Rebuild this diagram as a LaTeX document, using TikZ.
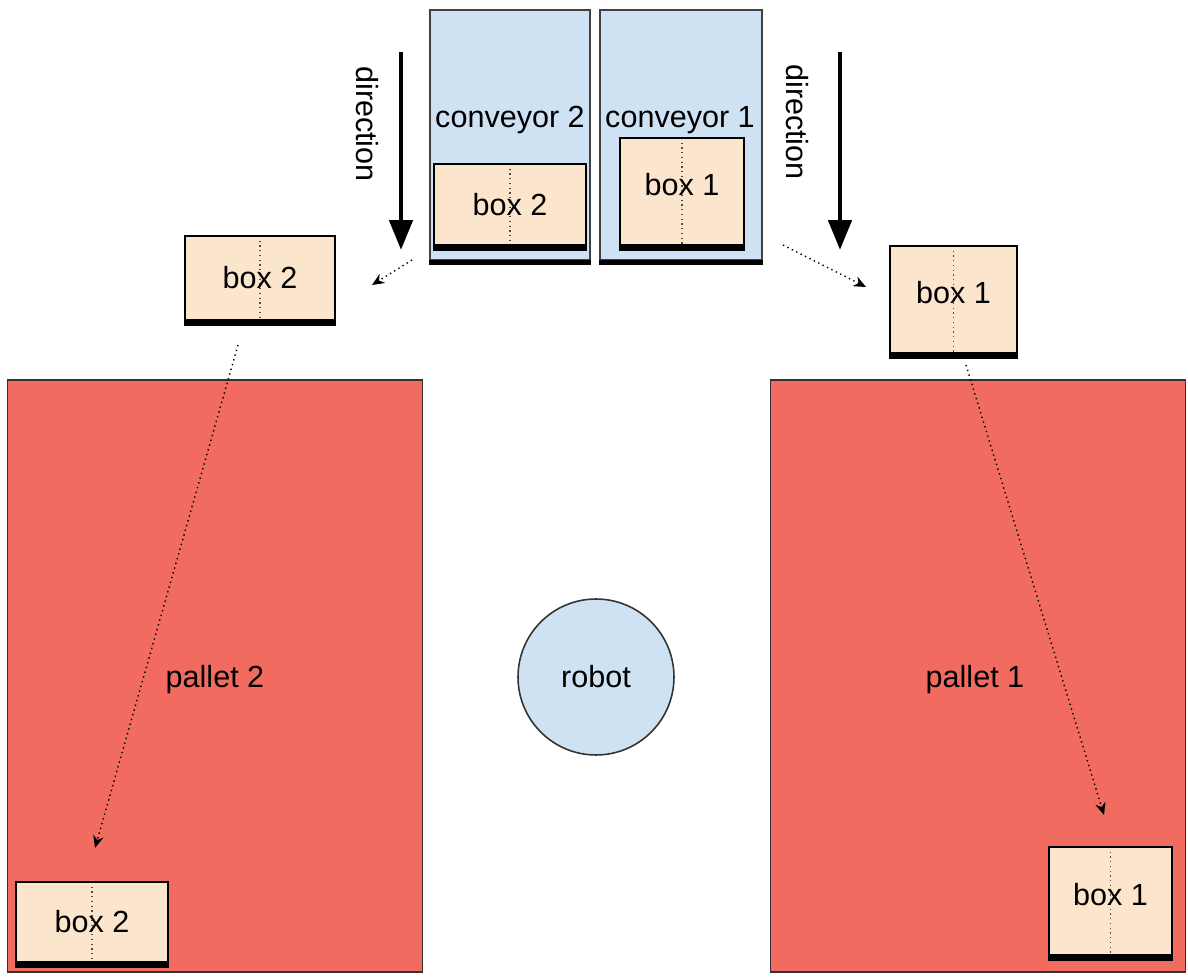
\documentclass[tikz,border=0pt]{standalone}
\usepackage{fontspec}
\setmainfont{Liberation Sans}
\usetikzlibrary{arrows.meta}
\definecolor{convblue}{RGB}{207,226,243}
\definecolor{boxpeach}{RGB}{252,229,205}
\definecolor{palletred}{RGB}{241,107,96}

\begin{document}
\begin{tikzpicture}[x=0.02cm,y=-0.02cm,
    every node/.style={font=\fontsize{17.4}{20}\selectfont},
    conveyor/.style={rectangle,draw=black!75,fill=convblue,line width=0.9pt,
      minimum width=3.2cm,minimum height=5cm,inner sep=0pt},
    pallet/.style={rectangle,draw=black!80,fill=palletred,line width=0.9pt,
      minimum width=8.3cm,minimum height=11.84cm,inner sep=0pt},
    box/.style={rectangle,draw=black,fill=boxpeach,line width=1.3pt,inner sep=0pt,
      path picture={\draw[dotted,black!70,line width=0.7pt] (path picture bounding box.north) -- (path picture bounding box.south);}},
    widebox/.style={box,minimum width=3.04cm,minimum height=1.62cm},
    tallbox/.style={box,minimum width=2.48cm,minimum height=2.14cm,text depth=0.28cm},
    bottom/.style={line width=3pt},
    move/.style={dotted,line width=0.8pt,-{Stealth[length=7pt,width=6pt]}},
    flow/.style={line width=2.8pt,-{Triangle[length=17pt,width=13pt]}}]
  \useasboundingbox (0,0) rectangle (1188,979);

  % pallets and robot
  \node[pallet] (pallet2) at (215,676) {};
  \node[pallet] (pallet1) at (978,676) {};
  \node (pallet2txt) at (215,680) {pallet 2};
  \node (pallet1txt) at (975,680) {pallet 1};
  \node[circle,draw=black!80,fill=convblue,line width=0.9pt,minimum size=3.12cm] (robot) at (596,677) {robot};

  % conveyors
  \node[conveyor] (conv2) at (510,135) {};
  \node[conveyor,minimum width=3.24cm] (conv1) at (681,135) {};
  \node (conv2txt) at (510,120) {conveyor 2};
  \node (conv1txt) at (680,120) {conveyor 1};

  % boxes
  \node[widebox] (cbox2) at (510,204.5) {box 2};
  \node[tallbox] (cbox1) at (682,191.5) {box 1};
  \node[widebox,minimum width=3cm,minimum height=1.68cm] (mbox2) at (260,278) {box 2};
  \node[tallbox,minimum width=2.54cm] (mbox1) at (953.5,299.5) {box 1};
  \node[widebox,minimum height=1.6cm] (pbox2) at (92,922) {box 2};
  \node[tallbox,minimum width=2.46cm,minimum height=2.16cm] (pbox1) at (1110.5,901) {box 1};

  \foreach \b in {conv2,conv1,cbox2,cbox1,mbox2,mbox1,pbox2,pbox1}
    \draw[bottom] ([yshift=-1pt]\b.south west) -- ([yshift=-1pt]\b.south east);

  % direction of the conveyors
  \node[rotate=-90] (dir2) at (367,124) {direction};
  \node[rotate=-90] (dir1) at (797,122) {direction};
  \coordinate (d2top) at (401,52);
  \coordinate (d2end) at (401,250);
  \coordinate (d1top) at (840,52);
  \coordinate (d1end) at (840,250);
  \draw[flow] (d2top) -- (d2end);
  \draw[flow] (d1top) -- (d1end);

  % moves
  \coordinate (m2a) at (412,260);
  \coordinate (m2b) at (372,285);
  \coordinate (m1a) at (783,245);
  \coordinate (m1b) at (866,287);
  \coordinate (p2a) at (238,345);
  \coordinate (p2b) at (95,848);
  \coordinate (p1a) at (966,365);
  \coordinate (p1b) at (1104,815);
  \draw[move] (m2a) -- (m2b);
  \draw[move] (m1a) -- (m1b);
  \draw[move] (p2a) -- (p2b);
  \draw[move] (p1a) -- (p1b);
\end{tikzpicture}
\end{document}
